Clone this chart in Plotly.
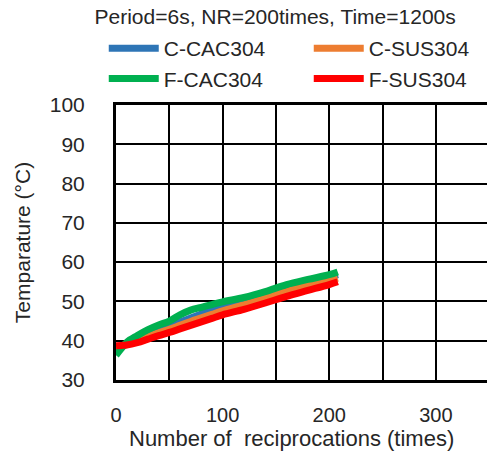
import plotly.graph_objects as go

# Data (Number of reciprocations vs temperature)
x_c_cac = [0, 5, 10, 20, 30, 40, 50, 60, 70, 80, 90, 100, 120, 140, 160, 180, 200, 208]
y_c_cac = [37.3, 38.4, 39.3, 40.6, 41.7, 42.7, 43.6, 44.7, 45.8, 46.8, 47.7, 48.6, 49.9, 51.4, 53.1, 54.7, 56.1, 56.8]

x_c_sus = [0, 5, 10, 20, 30, 40, 50, 60, 70, 80, 90, 100, 120, 140, 160, 180, 200, 208]
y_c_sus = [38.0, 38.5, 39.0, 40.0, 41.0, 42.0, 42.9, 43.9, 44.9, 45.8, 46.7, 47.6, 49.1, 50.8, 52.5, 54.0, 55.3, 55.9]

x_f_cac = [0, 5, 10, 20, 30, 40, 50, 60, 70, 80, 90, 100, 120, 140, 160, 180, 200, 208]
y_f_cac = [36.3, 38.0, 39.6, 41.3, 42.8, 44.0, 45.0, 46.6, 47.8, 48.5, 49.2, 49.9, 51.0, 52.5, 54.3, 55.6, 56.8, 57.5]

x_f_sus = [0, 5, 10, 20, 30, 40, 50, 60, 70, 80, 90, 100, 120, 140, 160, 180, 200, 208]
y_f_sus = [38.7, 38.8, 38.9, 39.5, 40.4, 41.3, 42.1, 43.0, 43.9, 44.8, 45.7, 46.6, 48.0, 49.6, 51.3, 52.8, 54.3, 55.0]

series = [
    ("C-CAC304", x_c_cac, y_c_cac, "#2E75B6", 1),
    ("C-SUS304", x_c_sus, y_c_sus, "#ED7D31", 2),
    ("F-CAC304", x_f_cac, y_f_cac, "#00B050", 3),
    ("F-SUS304", x_f_sus, y_f_sus, "#FF0000", 4),
]

x_ticks = [0, 100, 200, 300]
y_ticks = [30, 40, 50, 60, 70, 80, 90, 100]

FONT = "Liberation Sans, Arial, sans-serif"
TXT = "#262626"

fig = go.Figure()
for name, xs, ys, col, rank in series:
    fig.add_trace(go.Scatter(x=xs, y=ys, mode="lines", name=name,
                             line=dict(color=col, width=7, shape="spline"),
                             legendrank=rank))

fig.update_layout(
    width=487, height=452,
    margin=dict(l=116, r=0, t=105, b=72, autoexpand=False),
    plot_bgcolor="white", paper_bgcolor="white",
    font=dict(family=FONT, size=20, color=TXT),
    title=dict(text="Period=6s, NR=200times, Time=1200s", xref="container", yref="container",
               x=0.565, y=1 - 17 / 452, xanchor="center", yanchor="middle",
               font=dict(family=FONT, size=21, color=TXT)),
    showlegend=True,
    legend=dict(orientation="h", x=-0.033, xref="paper", y=1.28, yref="paper",
                xanchor="left", yanchor="top", entrywidth=140, entrywidthmode="pixels",
                font=dict(family=FONT, size=21, color=TXT), bgcolor="rgba(0,0,0,0)",
                traceorder="normal", itemwidth=50, tracegroupgap=0),
    annotations=[dict(text="Number of  reciprocations (times)", xref="paper", yref="paper",
                      x=(291 - 116) / 371, y=(380 - 438) / 275, xanchor="center", yanchor="middle",
                      showarrow=False, font=dict(family=FONT, size=22, color=TXT))],
)
fig.update_xaxes(range=[0, 348], tickvals=x_ticks, ticks="", ticklabelstandoff=15,
                 showgrid=True, gridcolor="black", gridwidth=1.5,
                 minor=dict(dtick=50, tick0=0, showgrid=True, gridcolor="black", gridwidth=1.5),
                 showline=True, linecolor="black", linewidth=3, mirror=True,
                 zeroline=False, tickfont=dict(size=20))
fig.update_yaxes(range=[30, 100], tickvals=y_ticks, ticks="", ticklabelstandoff=24,
                 showgrid=True, gridcolor="black", gridwidth=1.5,
                 showline=True, linecolor="black", linewidth=3, mirror=False,
                 zeroline=False, tickfont=dict(size=21),
                 title=dict(text="Temparature (°C)", standoff=14, font=dict(size=21)))

fig.write_html("out.html", config={"displayModeBar": False},
               post_script="document.body.style.margin='0';")
